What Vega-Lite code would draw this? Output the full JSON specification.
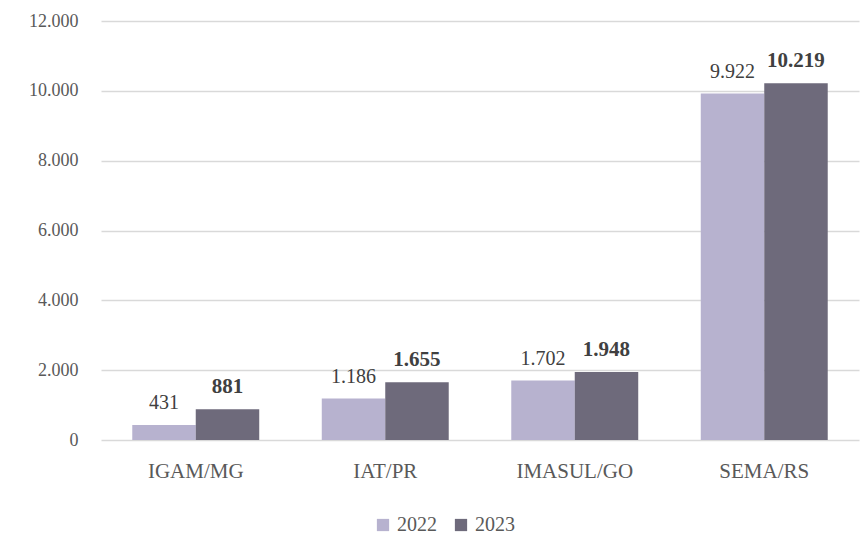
{
  "$schema": "https://vega.github.io/schema/vega-lite/v6.json",
  "width": 758,
  "height": 419,
  "autosize": "none",
  "padding": {"left": 101, "top": 21, "right": 1, "bottom": 94},
  "config": {
    "locale": {"number": {"decimal": ",", "thousands": ".", "grouping": [3], "currency": ["R$", ""]}},
    "view": {"stroke": null},
    "font": "Liberation Serif",
    "text": {"font": "Liberation Serif"}
  },
  "data": {"values": [
    {"org": "IGAM/MG", "ano": "2022", "v": 431},
    {"org": "IGAM/MG", "ano": "2023", "v": 881},
    {"org": "IAT/PR", "ano": "2022", "v": 1186},
    {"org": "IAT/PR", "ano": "2023", "v": 1655},
    {"org": "IMASUL/GO", "ano": "2022", "v": 1702},
    {"org": "IMASUL/GO", "ano": "2023", "v": 1948},
    {"org": "SEMA/RS", "ano": "2022", "v": 9922},
    {"org": "SEMA/RS", "ano": "2023", "v": 10219}
  ]},
  "encoding": {
    "x": {"field": "org", "type": "nominal", "sort": null,
      "scale": {"paddingInner": 0.33, "paddingOuter": 0.165},
      "axis": {"title": null, "labelAngle": 0, "ticks": false, "domain": false, "labelFontSize": 21, "labelColor": "#595959", "labelPadding": 20, "labelFont": "Liberation Serif"}},
    "xOffset": {"field": "ano", "type": "nominal"},
    "y": {"field": "v", "type": "quantitative",
      "scale": {"domain": [0, 12000]},
      "axis": {"title": null, "values": [0, 2000, 4000, 6000, 8000, 10000, 12000], "format": ",d", "ticks": false, "domain": false, "gridColor": "#d9d9d9", "gridWidth": 1.5, "labelFontSize": 18, "labelColor": "#595959", "labelPadding": 23, "labelFont": "Liberation Serif"}}
  },
  "layer": [
    {
      "mark": {"type": "bar"},
      "encoding": {
        "color": {"field": "ano", "type": "nominal",
          "scale": {"domain": ["2022", "2023"], "range": ["#b7b2cf", "#6e6a7b"]},
          "legend": {"title": null, "orient": "none", "legendX": 272, "legendY": 494, "direction": "horizontal", "symbolType": "square", "symbolSize": 150, "symbolStrokeWidth": 0, "labelFontSize": 20, "labelColor": "#595959", "labelFont": "Liberation Serif", "columnPadding": 14, "symbolOpacity": 1}
        }
      }
    },
    {
      "transform": [{"filter": "datum.ano == '2022'"}],
      "mark": {"type": "text", "baseline": "bottom", "dy": -12, "fontSize": 20, "color": "#404040", "font": "Liberation Serif"},
      "encoding": {"text": {"field": "v", "type": "quantitative", "format": ",d"}}
    },
    {
      "transform": [{"filter": "datum.ano == '2023'"}],
      "mark": {"type": "text", "baseline": "bottom", "dy": -12, "fontSize": 21, "fontWeight": "bold", "color": "#404040", "font": "Liberation Serif"},
      "encoding": {"text": {"field": "v", "type": "quantitative", "format": ",d"}}
    }
  ]
}
